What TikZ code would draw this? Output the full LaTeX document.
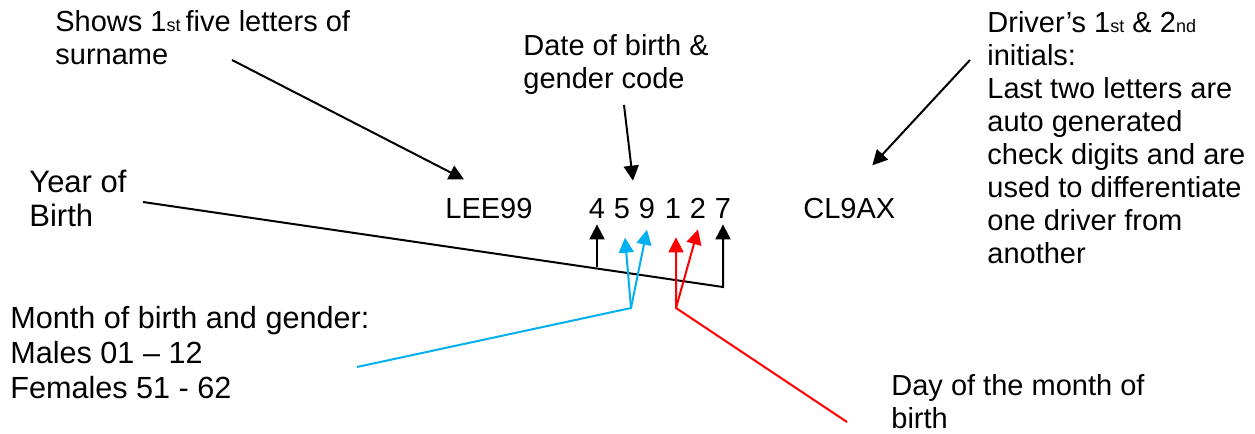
\documentclass[tikz,border=0pt]{standalone}
\usepackage{fontspec}
\setmainfont{Liberation Sans}
\usepackage{xcolor}
\usepackage{tikz}
\usetikzlibrary{arrows.meta}
\definecolor{licblue}{RGB}{0,176,240}
\definecolor{licred}{RGB}{255,0,0}
\newcommand{\ordsuf}[1]{{\fontsize{9}{9}\selectfont #1}}
\tikzset{
	labeltext/.style={font=\fontsize{14.5}{16.5}\selectfont, align=left, anchor=north west, inner sep=0pt},
	codetext/.style={font=\fontsize{14.5}{16.5}\selectfont, inner sep=3pt},
	pointer/.style={line width=1pt, -{Triangle[length=7.5pt,width=7.5pt]}},
}

\begin{document}
\begin{tikzpicture}[x=0.5pt, y=-0.5pt]
	\useasboundingbox (0,0) rectangle (1255,434);
	\node [labeltext] (shows) at (55,10) {Shows 1\ordsuf{st }five letters of\\surname};
	\node [labeltext] (dob) at (523,34) {Date of birth \&\\gender code};
	\node [labeltext] (initials) at (987,11) {Driver’s 1\ordsuf{st} \& 2\ordsuf{nd}\\initials:\\Last two letters are\\auto generated\\check digits and are\\used to differentiate\\one driver from\\another};
	\node [labeltext, font=\fontsize{15.5}{17}\selectfont] (year) at (29,170) {Year of\\Birth};
	\node [labeltext, font=\fontsize{15.3}{17.5}\selectfont] (month) at (10,306) {Month of birth and gender:\\Males 01 – 12\\Females 51 - 62};
	\node [labeltext] (day) at (891,374) {Day of the month of\\birth};
	\node [codetext, anchor=base west] (surname) at (439,218) {LEE99};
	\node [codetext, anchor=base] (d1) at (597,218) {4};
	\node [codetext, anchor=base] (d2) at (622,218) {5};
	\node [codetext, anchor=base] (d3) at (647,218) {9};
	\node [codetext, anchor=base] (d4) at (673,218) {1};
	\node [codetext, anchor=base] (d5) at (698,218) {2};
	\node [codetext, anchor=base] (d6) at (723,218) {7};
	\node [codetext, anchor=base west] (checks) at (797,218) {CL9AX};
	\coordinate (stail) at (232,60);
	\coordinate (dtail) at (624,105);
	\coordinate (itail) at (970,60);
	\coordinate (ytail) at (143,202);
	\coordinate (ybend) at (723,287);
	\coordinate (yfork) at (597,267);
	\coordinate (mtail) at (357,367);
	\coordinate (mjoin) at (631,308);
	\coordinate (dytail) at (847,422);
	\coordinate (dyjoin) at (676,308);
	\draw [pointer] (stail) -- ([shift={(25,-12)}]surname.north west);
	\draw [pointer] (dtail) -- ([shift={(11,-11)}]d2.north);
	\draw [pointer] (itail) -- ([shift={(23,-26)}]checks.north);
	\draw [pointer] (ytail) -- (ybend) -- (d6.south);
	\draw [pointer] (yfork) -- (d1.south);
	\draw [pointer, licblue] (mtail) -- (mjoin) -- ([shift={(3,13)}]d2.south);
	\draw [pointer, licblue] (mjoin) -- ([shift={(0,5)}]d3.south);
	\draw [pointer, licred] (dytail) -- (dyjoin) -- ([shift={(3,13)}]d4.south);
	\draw [pointer, licred] (dyjoin) -- ([shift={(0,5)}]d5.south);
\end{tikzpicture}
\end{document}
